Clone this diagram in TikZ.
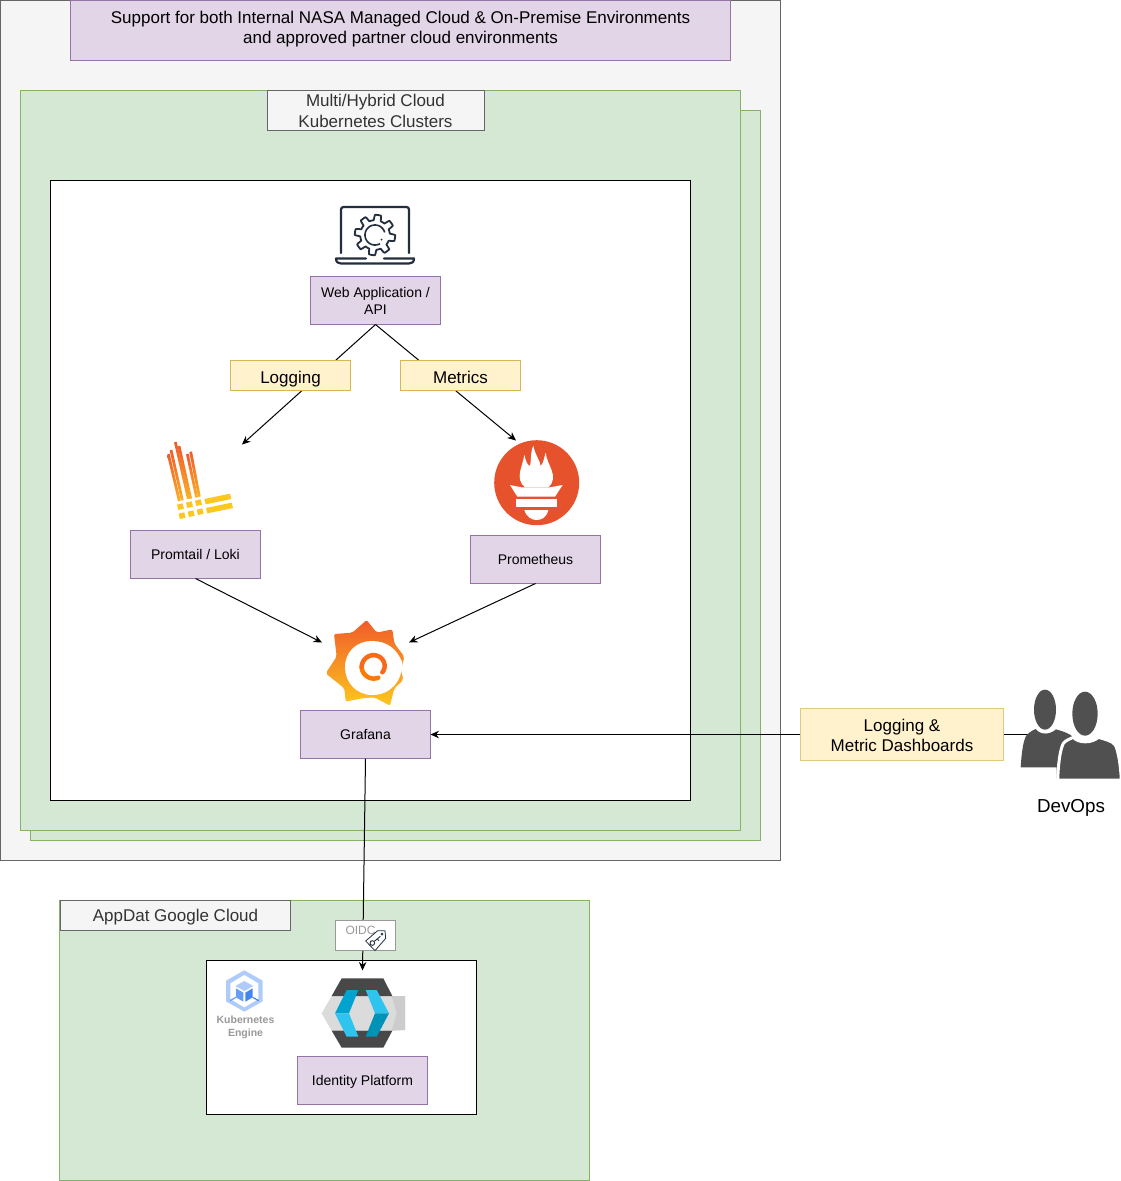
\documentclass[tikz,border=0pt]{standalone}
\usepackage{fontspec}
\setmainfont{Liberation Sans}
\usetikzlibrary{arrows.meta}
\definecolor{purf}{HTML}{E1D5E7}\definecolor{purd}{HTML}{9673A6}
\definecolor{yelf}{HTML}{FFF2CC}\definecolor{yeld}{HTML}{D6B656}
\definecolor{grnf}{HTML}{D5E8D4}\definecolor{grnd}{HTML}{82B366}
\definecolor{grayf}{HTML}{F5F5F5}\definecolor{grayd}{HTML}{666666}
\definecolor{ink}{HTML}{232F3E}\definecolor{ppl}{HTML}{505050}
\definecolor{lokiO}{HTML}{F15B2A}\definecolor{lokiY}{HTML}{FBB024}
\definecolor{blockY}{HTML}{FCC71E}\definecolor{promc}{HTML}{E6522C}
\definecolor{kA}{HTML}{AECBFA}\definecolor{kB}{HTML}{669DF6}\definecolor{kC}{HTML}{4285F4}
\definecolor{kcA}{HTML}{00A3CF}\definecolor{kcB}{HTML}{2EC4EE}\definecolor{kcC}{HTML}{0093B8}
\tikzset{
 bx/.style={draw,inner sep=0pt,outer sep=0pt,align=center,line width=1pt},
 purplebox/.style={bx,draw=purd,fill=purf,font=\fontsize{14}{17}\selectfont},
 yellowbox/.style={bx,draw=yeld,fill=yelf,font=\fontsize{17}{20}\selectfont},
 greenbox/.style={bx,draw=grnd,fill=grnf},
 whitebox/.style={bx,draw=black,fill=white},
 graybox/.style={bx,draw=grayd,fill=grayf,text=black!80,font=\fontsize{17}{21}\selectfont},
 conn/.style={draw=black,line width=1pt},
 arr/.style={conn,-{Stealth[length=8.5pt,width=7.5pt]}},
 zoomA/.style={x=0.33333pt,y=-0.33333pt}
}
\begin{document}
\begin{tikzpicture}[x=1pt,y=-1pt]
\useasboundingbox (-0.5,-0.5) rectangle (1120.5,1180.5);
\fill[white] (-0.5,-0.5) rectangle (1120.5,1180.5);
% containers
\node[bx,draw=grayd,fill=grayf,minimum width=780pt,minimum height=860pt] (outer) at (390,430) {};
\node[purplebox,minimum width=660pt,minimum height=60pt,font=\fontsize{17}{20}\selectfont] (support) at (400,30) {Support for both Internal NASA Managed Cloud \& On-Premise Environments\\and approved partner cloud environments\rule[-5.6pt]{0pt}{5.6pt}};
\node[greenbox,minimum width=730pt,minimum height=730pt] (clusterback) at (395,475) {};
\node[greenbox,minimum width=720pt,minimum height=740pt] (cluster) at (380,460) {};
\node[graybox,minimum width=217pt,minimum height=40pt] (clusterlabel) at (375,110) {\rule{0pt}{12.3pt}Multi/Hybrid Cloud\\Kubernetes Clusters};
\node[whitebox,minimum width=640pt,minimum height=620pt] (inner) at (370,490) {};
\node[greenbox,minimum width=530pt,minimum height=280pt] (gcp) at (324,1040) {};
\node[graybox,minimum width=230pt,minimum height=30pt] (gcplabel) at (175,915) {\rule{0pt}{16.4pt}AppDat Google Cloud};
\node[whitebox,minimum width=270pt,minimum height=154pt] (gke) at (341,1037) {};
% labelled boxes
\node[purplebox,minimum width=130pt,minimum height=48pt] (web) at (375,300) {Web Application /\\API};
\node[purplebox,minimum width=130pt,minimum height=48pt] (promtail) at (195,554) {Promtail / Loki};
\node[purplebox,minimum width=130pt,minimum height=48pt] (prom) at (535,559) {Prometheus};
\node[purplebox,minimum width=130pt,minimum height=48pt] (grafana) at (365,734) {Grafana};
\node[purplebox,minimum width=130pt,minimum height=48pt] (identity) at (362,1080) {\rule{0pt}{12pt}Identity Platform};
% connector anchors
\coordinate (lokiicon) at (241.5,444);
\coordinate (promicon) at (515.5,440);
\coordinate (grafL) at (321.5,642);
\coordinate (grafR) at (408.5,642);
\coordinate (keycloak) at (362,970);
\coordinate (people) at (1030,734);
% connectors
\draw[arr] (web.south) -- (lokiicon);
\draw[arr] (web.south) -- (promicon);
\draw[arr] (promtail.south) -- (grafL);
\draw[arr] (prom.south) -- (grafR);
\draw[arr] (people) -- (grafana.east);
\draw[arr] (grafana.south) -- (keycloak);
% edge labels
\node[yellowbox,minimum width=120pt,minimum height=30pt,text height=15pt,text depth=0pt] (logging) at (290,375) {Logging};
\node[yellowbox,minimum width=120pt,minimum height=30pt,text height=15pt,text depth=0pt] (metrics) at (460,375) {Metrics};
\node[yellowbox,draw=yeld!75,line width=1.5pt,minimum width=203pt,minimum height=52pt] (dash) at (901.5,734) {\rule{0pt}{14.5pt}Logging \&\\Metric Dashboards};
\node[bx,draw=black!40,fill=white,minimum width=60pt,minimum height=30pt] (oidc) at (365,935) {};
\node[text=black!40,font=\fontsize{12}{14}\selectfont,inner sep=0pt] (oidctext) at (360,930) {OIDC};
% tag icon
\begin{scope}[shift={(199.5,909.5)},zoomA]
\draw[ink,fill=white,line width=0.8pt,line join=round] (497,93) -- (533,62) -- (555,62) -- (557,85) -- (525,122) -- cycle;
\draw[ink,line width=0.7pt] (546,72) circle [radius=3];
\draw[ink,line width=0.9pt] (517,99) circle [radius=7];
\draw[ink,line width=0.9pt] (523,94) -- (541,79) (532,87) -- (537,92);
\end{scope}
% laptop icon
\begin{scope}[shift={(-0.5,-0.5)}]
\draw[ink,line width=2.2pt,rounded corners=2.5pt,line cap=round] (341,253) -- (341,207) -- (409,207) -- (409,253);
\draw[ink,line width=2.2pt,line cap=round,line join=round] (366,258.5) -- (336,258.5) .. controls (336,262) and (338,263.5) .. (341,263.5) -- (409,263.5) .. controls (412,263.5) and (414,262) .. (414,258.5) -- (384,258.5);
\draw[ink,line width=1.8pt,line join=round] plot[domain=0:360,samples=193] ({375+(17.5+2.7*max(-1,min(1,3*sin(8*\x+20))))*cos(\x)},{235+(17.5+2.7*max(-1,min(1,3*sin(8*\x+20))))*sin(\x)}) -- cycle;
\draw[ink,line width=1.6pt] plot[domain=60:345,samples=50] ({375+10*cos(\x)},{235+10*sin(\x)});
\fill[ink] (381.5,239.5) circle (1pt);
\end{scope}
% Loki icon
\begin{scope}[shift={(149.5,429.5)},zoomA]
\shade[top color=lokiO,bottom color=lokiY] (51,74)--(59,71)--(92,212)--(84,214)--cycle;
\shade[top color=lokiO,bottom color=lokiY] (59,61)--(67,59)--(101,210)--(93,212)--cycle;
\shade[top color=lokiO,bottom color=lokiY] (72,37)--(80,35)--(119,205)--(111,207)--cycle;
\shade[top color=lokiO,bottom color=lokiY] (83,49)--(91,47)--(126,205)--(118,207)--cycle;
\shade[top color=lokiO,bottom color=lokiY] (108,73)--(116,71)--(144,201)--(136,203)--cycle;
\shade[top color=lokiO,bottom color=lokiY] (118,67)--(126,64)--(152,199)--(144,201)--cycle;
\fill[blockY] (81,224)--(98,220)--(102,236)--(85,240)--cycle;
\fill[blockY] (108,218)--(125,214)--(129,230)--(112,234)--cycle;
\fill[blockY] (135,212)--(152,208)--(156,224)--(139,228)--cycle;
\fill[blockY] (163,207)--(240,191)--(244,207)--(167,223)--cycle;
\fill[blockY] (86,251)--(103,247)--(107,263)--(90,267)--cycle;
\fill[blockY] (113,245)--(130,241)--(134,257)--(117,261)--cycle;
\fill[blockY] (140,239)--(157,235)--(161,251)--(144,255)--cycle;
\fill[blockY] (168,234)--(245,218)--(249,234)--(172,250)--cycle;
\end{scope}
% Prometheus icon
\fill[promc] (536.2,482.2) circle (42.5pt);
\begin{scope}[shift={(479.5,429.5)},zoomA]
\fill[white] (135,172) .. controls (103,145) and (128,110) .. (133,75) .. controls (138,95) and (142,105) .. (150,108) .. controls (155,85) and (150,70) .. (160,47) .. controls (165,75) and (180,90) .. (182,108) .. controls (190,100) and (192,85) .. (197,68) .. controls (200,105) and (240,140) .. (205,172) -- cycle;
\fill[white] (90,165) -- (125,172) -- (210,172) -- (248,165) -- (225,200) -- (112,200) -- cycle;
\fill[white] (108,208) rectangle (230,230);
\fill[white] (133,240) .. controls (140,262) and (155,270) .. (170,270) .. controls (185,270) and (200,262) .. (205,240) -- cycle;
\end{scope}
% Grafana icon
\begin{scope}[shift={(314.5,609.5)},zoomA]
\shade[top color=lokiO,bottom color=blockY,rounded corners=2pt] (155,30) -- (185,68) -- (232,58) -- (238,100) -- (268,140) -- (258,180) -- (265,210) -- (238,235) -- (225,287) -- (178,262) -- (140,265) -- (92,275) -- (88,235) -- (32,190) -- (65,140) -- (57,72) -- (112,68) -- cycle;
\fill[white] (262,158) .. controls (262,215) and (225,255) .. (172,255) .. controls (125,255) and (90,218) .. (90,172) .. controls (90,125) and (125,93) .. (170,93) .. controls (215,93) and (245,115) .. (262,158) -- cycle;
\draw[orange!85!lokiO,line width=4.5pt,line cap=round] plot[domain=70:180,samples=25] ({178+(35+0.03*(\x-70))*cos(\x)},{170+(35+0.03*(\x-70))*sin(\x)});
\draw[lokiO!60!orange,line width=4.5pt,line cap=round] plot[domain=180:395,samples=40] ({178+(38-0.04*(\x-180))*cos(\x)},{170+(38-0.04*(\x-180))*sin(\x)});
\end{scope}
% Kubernetes Engine icon
\begin{scope}[shift={(199.5,909.5)},zoomA]
\fill[kA] (133,181)--(188,212)--(188,274)--(133,305)--(78,274)--(78,212)--cycle;
\fill[white] (133,195)--(175,220)--(175,267)--(133,292)--(91,267)--(91,220)--cycle;
\fill[kA] (133,213)--(160,228)--(133,243)--(106,228)--cycle;
\fill[kB] (108,235)--(130,248)--(130,275)--(108,262)--cycle;
\fill[kC] (136,248)--(158,235)--(158,262)--(136,275)--cycle;
\draw[kB,line width=1.2pt] (90,272)--(108,262);
\draw[kC,line width=1.2pt] (176,272)--(158,262);
\end{scope}
\node[text=black!40,font=\bfseries\fontsize{10.5}{13}\selectfont,align=center,inner sep=0pt] (gketext) at (245,1027) {Kubernetes\\Engine};
% Keycloak icon
\begin{scope}[shift={(199.5,909.5)},zoomA]
\fill[black!14] (395,258) -- (615,258) -- (615,360) -- (395,362) -- (365,310) -- cycle;
\fill[black!20] (575,258) -- (615,258) -- (615,360) -- (575,362) -- (590,310) -- cycle;
\fill[ppl!90!black] (425,205) -- (550,205) -- (577,258) -- (395,258) -- cycle;
\fill[ppl!90!black] (395,362) -- (577,362) -- (550,413) -- (425,413) -- cycle;
\fill[kcA] (405,310) -- (440,240) -- (475,240) -- (447,310) -- cycle;
\fill[kcB] (405,310) -- (447,310) -- (475,380) -- (440,380) -- cycle;
\fill[kcB] (497,240) -- (530,240) -- (567,310) -- (525,310) -- cycle;
\fill[kcC] (525,310) -- (567,310) -- (530,380) -- (497,380) -- cycle;
\end{scope}
% people icon
\begin{scope}[shift={(989.5,679.5)},zoomA]
\fill[ppl] (92,262) .. controls (95,215) and (100,180) .. (110,165) .. controls (120,155) and (130,150) .. (137,147) .. controls (150,165) and (180,165) .. (198,148) .. controls (215,153) and (240,160) .. (250,172) -- (200,300) -- (200,262) -- cycle;
\fill[ppl] (165,89) ellipse [x radius=33,y radius=60];
\draw[white,line width=3pt,fill=ppl] (203,300) .. controls (205,250) and (210,210) .. (220,190) .. controls (228,180) and (242,176) .. (250,172) .. controls (265,190) and (305,190) .. (325,172) .. controls (345,178) and (366,182) .. (376,195) .. controls (386,215) and (392,260) .. (394,300) -- cycle;
\fill[ppl] (285,101) ellipse [x radius=38,y radius=66];
\end{scope}
\node[font=\fontsize{18.8}{22}\selectfont,inner sep=0pt] (devops) at (1070.5,807) {DevOps};
\end{tikzpicture}
\end{document}
